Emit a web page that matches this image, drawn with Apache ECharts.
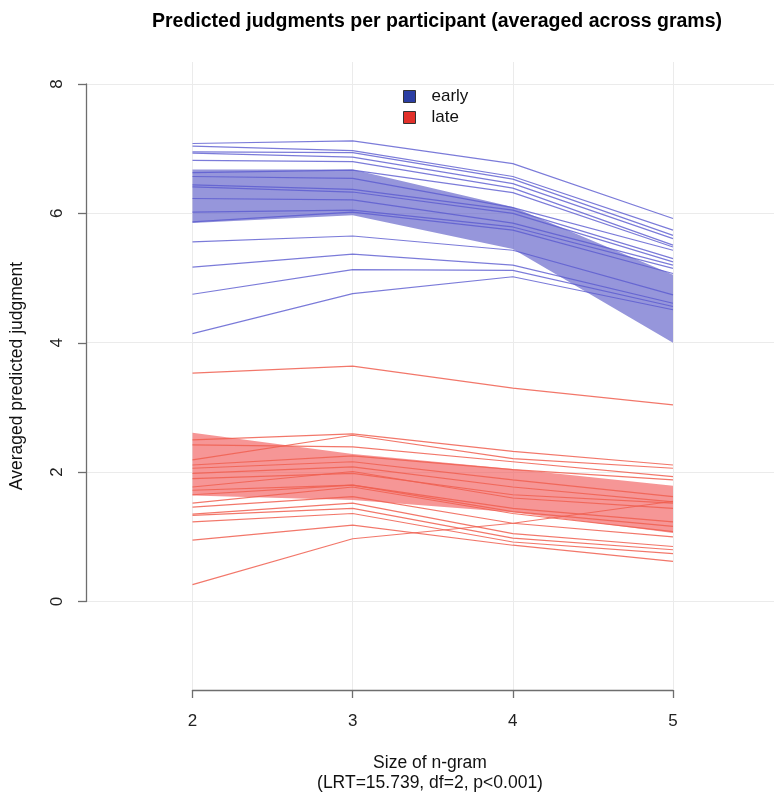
<!DOCTYPE html>
<html>
<head>
<meta charset="utf-8">
<script src="https://cdn.jsdelivr.net/npm/echarts@6/dist/echarts.min.js"></script>
<style>html,body{margin:0;padding:0;background:#fff}#c{width:774px;height:794px}</style>
</head>
<body>
<div id="c"></div>
<script>
// ---- data ----
const xCategories = ['2', '3', '4', '5'];
const xTicks = [2, 3, 4, 5];
const yTicks = [0, 2, 4, 6, 8];

const earlyLines = [
  [7.08, 7.12, 6.77, 5.92],
  [7.04, 6.97, 6.57, 5.74],
  [6.95, 6.94, 6.53, 5.66],
  [6.93, 6.87, 6.46, 5.61],
  [6.82, 6.80, 6.39, 5.51],
  [6.63, 6.67, 6.32, 5.48],
  [6.57, 6.54, 6.09, 5.43],
  [6.44, 6.37, 6.05, 5.30],
  [6.41, 6.33, 6.00, 5.25],
  [6.23, 6.21, 5.85, 5.20],
  [6.02, 6.05, 5.79, 5.15],
  [5.87, 6.02, 5.74, 5.07],
  [5.56, 5.65, 5.43, 4.74],
  [5.17, 5.37, 5.20, 4.61],
  [4.75, 5.13, 5.12, 4.56],
  [4.14, 4.76, 5.02, 4.51]
];
const earlyLower = [5.85, 5.97, 5.45, 4.00];
const earlyUpper = [6.68, 6.68, 6.10, 5.05];

const lateLines = [
  [3.53, 3.64, 3.30, 3.04],
  [2.50, 2.59, 2.32, 2.11],
  [2.19, 2.57, 2.21, 2.06],
  [2.42, 2.39, 2.16, 1.93],
  [2.11, 2.25, 2.04, 1.88],
  [2.06, 2.16, 1.88, 1.62],
  [1.98, 2.08, 1.77, 1.54],
  [1.90, 1.98, 1.65, 1.52],
  [1.77, 2.01, 1.60, 1.44],
  [1.72, 1.80, 1.44, 1.23],
  [1.65, 1.80, 1.39, 1.16],
  [1.52, 1.77, 1.36, 1.08],
  [1.46, 1.62, 1.21, 1.00],
  [1.35, 1.52, 1.05, 0.85],
  [1.33, 1.44, 0.98, 0.80],
  [1.23, 1.36, 0.92, 0.74],
  [0.95, 1.18, 0.87, 0.62],
  [0.26, 0.97, 1.21, 1.55]
];
const lateLower = [1.64, 1.57, 1.38, 1.06];
const lateUpper = [2.61, 2.28, 2.05, 1.79];

// ---- chart ----
const FONT = 'Liberation Sans, Arial, sans-serif';
const series = [];

// background grid lines (full plot region)
series.push({
  type: 'line', xAxisIndex: 0, yAxisIndex: 0, data: [], silent: true, z: 0,
  markLine: {
    silent: true, symbol: 'none', animation: false, z: 0,
    label: { show: false },
    lineStyle: { color: '#ebebeb', width: 1, type: 'solid' },
    emphasis: { disabled: true },
    data: xTicks.map(v => ({ xAxis: v })).concat(yTicks.map(v => ({ yAxis: v })))
  }
});

function band(lower, upper, color, key) {
  series.push({
    type: 'line', xAxisIndex: 1, yAxisIndex: 1, stack: key, data: lower,
    symbol: 'none', lineStyle: { opacity: 0 }, silent: true, z: 2
  });
  series.push({
    type: 'line', xAxisIndex: 1, yAxisIndex: 1, stack: key,
    data: upper.map((u, i) => +(u - lower[i]).toFixed(3)),
    symbol: 'none', lineStyle: { opacity: 0 }, areaStyle: { color: color, opacity: 1 },
    silent: true, z: 2
  });
}
band(earlyLower, earlyUpper, 'rgba(95,95,200,0.66)', 'eb');
band(lateLower, lateUpper, 'rgba(242,95,95,0.66)', 'lb');

earlyLines.forEach(d => series.push({
  name: 'early', type: 'line', xAxisIndex: 1, yAxisIndex: 1, data: d,
  symbol: 'none', silent: true, z: 3,
  lineStyle: { color: 'rgba(90,90,208,0.8)', width: 1.2 }
}));
lateLines.forEach(d => series.push({
  name: 'late', type: 'line', xAxisIndex: 1, yAxisIndex: 1, data: d,
  symbol: 'none', silent: true, z: 3,
  lineStyle: { color: 'rgba(240,95,80,0.85)', width: 1.2 }
}));

const option = {
  animation: false,
  backgroundColor: '#fff',
  title: {
    text: 'Predicted judgments per participant (averaged across grams)',
    left: 432, top: 7, textAlign: 'center',
    textStyle: { fontFamily: FONT, fontSize: 19.5, fontWeight: 'bold', color: '#000' }
  },
  legend: {
    orient: 'vertical', left: 398, top: 83, itemWidth: 12, itemHeight: 12, itemGap: 4,
    icon: 'rect', selectedMode: false,
    textStyle: { fontFamily: FONT, fontSize: 17, color: '#111', padding: [0, 0, 0, 11] },
    data: [
      { name: 'early', itemStyle: { color: '#2b3ea3', borderColor: '#333', borderWidth: 1 } },
      { name: 'late', itemStyle: { color: '#e2302a', borderColor: '#333', borderWidth: 1 } }
    ]
  },
  grid: [
    { left: 86, right: 0, top: 62, bottom: 104, outerBoundsMode: 'none', containLabel: false },
    { left: 192.5, right: 101, top: 84, bottom: 192.5, outerBoundsMode: 'none', containLabel: false }
  ],
  xAxis: [
    {
      type: 'value', gridIndex: 0, min: 1.335, max: 5.630,
      axisLine: { show: false }, axisTick: { show: false }, axisLabel: { show: false }, splitLine: { show: false },
      name: 'Size of n-gram\n(LRT=15.739, df=2, p<0.001)', nameLocation: 'middle', nameGap: 63,
      nameTextStyle: { fontFamily: FONT, fontSize: 17.5, color: '#111', lineHeight: 20 }
    },
    {
      type: 'category', gridIndex: 1, data: xCategories, boundaryGap: false, offset: 88.5,
      axisLine: { show: true, onZero: false, lineStyle: { color: '#6e6e6e', width: 1.3 } },
      axisTick: { show: true, inside: false, length: 8, interval: 0, lineStyle: { color: '#6e6e6e', width: 1.3 } },
      axisLabel: { show: true, margin: 23, fontFamily: FONT, fontSize: 17, color: '#222', interval: 0 },
      splitLine: { show: false }
    }
  ],
  yAxis: [
    {
      type: 'value', gridIndex: 0, min: -1.368, max: 8.34,
      axisLine: { show: false }, axisTick: { show: false }, axisLabel: { show: false }, splitLine: { show: false },
      name: 'Averaged predicted judgment', nameLocation: 'middle', nameGap: 60, nameRotate: 90,
      nameTextStyle: { fontFamily: FONT, fontSize: 17.5, color: '#111' }
    },
    {
      type: 'value', gridIndex: 1, min: 0, max: 8, interval: 2, offset: 106.5,
      axisLine: { show: true, onZero: false, lineStyle: { color: '#6e6e6e', width: 1.3 } },
      axisTick: { show: true, inside: false, length: 8, lineStyle: { color: '#6e6e6e', width: 1.3 } },
      axisLabel: { show: true, rotate: 90, margin: 20, fontFamily: FONT, fontSize: 17, color: '#222' },
      splitLine: { show: false }
    }
  ],
  series: series
};

const chart = echarts.init(document.getElementById('c'), null, { renderer: 'canvas' });
chart.setOption(option);
</script>
</body>
</html>
